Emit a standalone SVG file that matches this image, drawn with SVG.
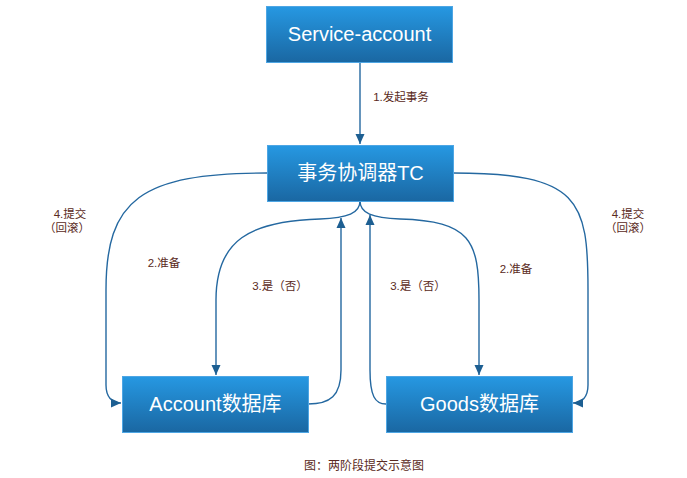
<svg xmlns="http://www.w3.org/2000/svg" width="687" height="478" viewBox="0 0 687 478">
<defs>
<linearGradient id="g" x1="0" y1="0" x2="0" y2="1">
<stop offset="0" stop-color="#2698e2"/>
<stop offset="1" stop-color="#1a67a2"/>
</linearGradient>
<marker id="ah" viewBox="0 0 10 10" refX="10" refY="5" markerWidth="10" markerHeight="10" markerUnits="userSpaceOnUse" orient="auto">
<path d="M0,0.5 L10,5 L0,9.5 Z" fill="#1d5f92"/>
</marker>
<style>
.box{fill:url(#g);stroke:#4ea6e4;stroke-width:1}
.bt{fill:#ffffff;font-family:"Liberation Sans","Noto Sans CJK SC",sans-serif;font-size:20px;text-anchor:middle;dominant-baseline:central}
.lb{fill:#5a2a22;font-family:"Liberation Sans","Noto Sans CJK SC",sans-serif;font-size:11.5px;text-anchor:middle;dominant-baseline:central}
.c{fill:none;stroke:#2468a0;stroke-width:1.4;marker-end:url(#ah)}
</style>
</defs>
<rect width="687" height="478" fill="#ffffff"/>
<g id="connectors">
<path class="c" d="M360,62 L360,144"/>
<path class="c" d="M267,173 C140,173 106,200 106,290 L106,385 C106,397 112,403 121,403"/>
<path class="c" d="M453,173 C580,173 588,200 588,290 L588,385 C588,397 582,403 573,403"/>
<path class="c" d="M360,201 C360,213 348,218 320,219 C250,221 216,240 216,300 L216,375"/>
<path class="c" d="M360,201 C360,213 372,218 400,219 C470,221 479,240 479,300 L479,375"/>
<path class="c" d="M308,404 C330,404 341,396 341,370 L341,218"/>
<path class="c" d="M386,404 C375,404 370,396 370,370 L370,215"/>
</g>
<g id="service-account">
<rect class="box" x="266.5" y="6.5" width="186" height="56"/>
<text class="bt" x="359.5" y="34">Service-account</text>
</g>
<g id="tc">
<rect class="box" x="267.5" y="145.5" width="186" height="56"/>
<text class="bt" x="360.5" y="173">事务协调器TC</text>
</g>
<g id="account-db">
<rect class="box" x="122.5" y="376.5" width="186" height="56"/>
<text class="bt" x="215.5" y="404">Account数据库</text>
</g>
<g id="goods-db">
<rect class="box" x="386.5" y="376.5" width="186" height="56"/>
<text class="bt" x="479.5" y="404">Goods数据库</text>
</g>
<g id="labels">
<text class="lb" x="401" y="97">1.发起事务</text>
<text class="lb" x="70" y="214">4.提交</text>
<text class="lb" x="67" y="228">（回滚）</text>
<text class="lb" x="164" y="263">2.准备</text>
<text class="lb" x="280" y="286">3.是（否）</text>
<text class="lb" x="418" y="286">3.是（否）</text>
<text class="lb" x="516" y="269">2.准备</text>
<text class="lb" x="628" y="214">4.提交</text>
<text class="lb" x="628" y="228">（回滚）</text>
<text class="lb" x="364" y="466" style="font-size:12px">图：两阶段提交示意图</text>
</g>
</svg>
